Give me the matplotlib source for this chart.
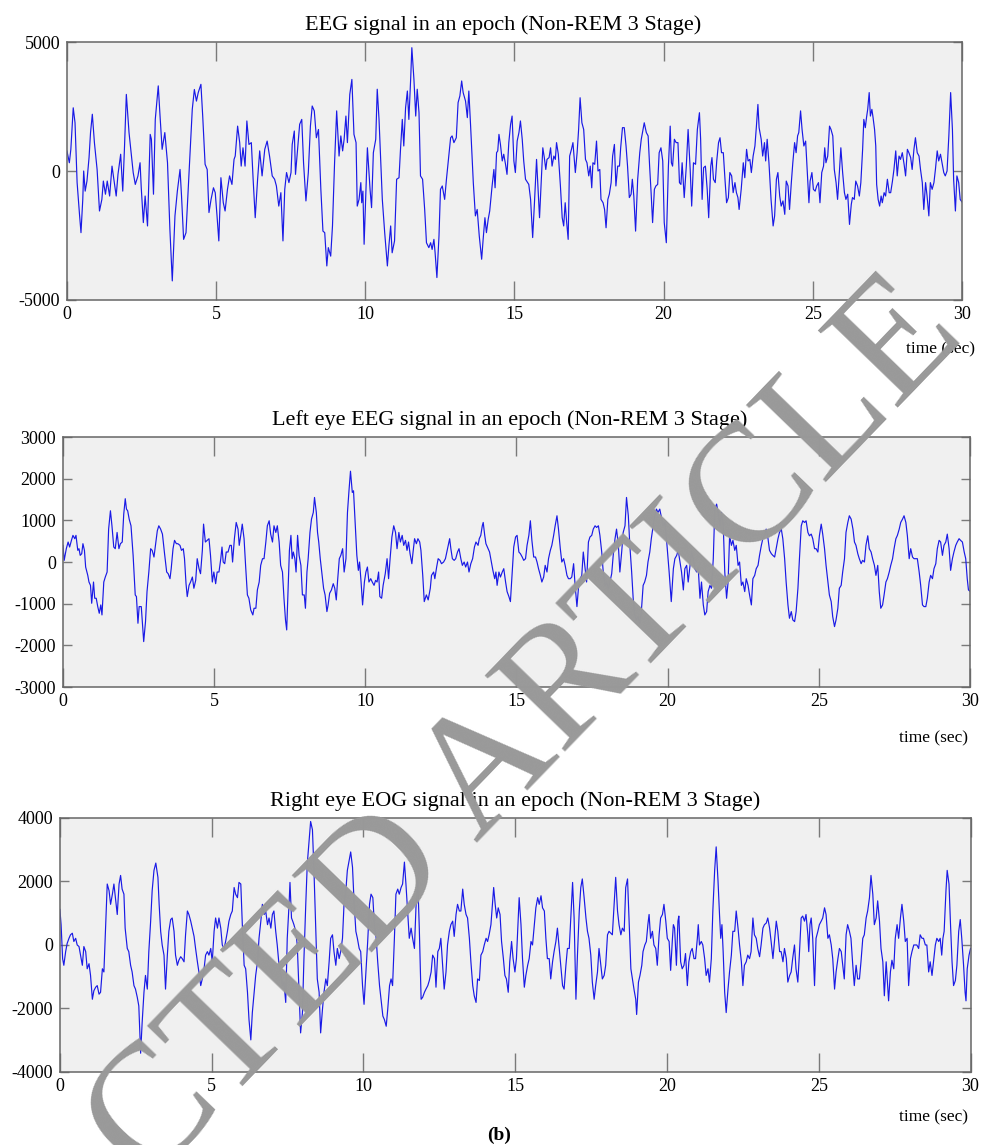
import numpy as np
import matplotlib.pyplot as plt

plt.rcParams['font.family'] = ['Liberation Serif', 'DejaVu Serif']
plt.rcParams['axes.unicode_minus'] = False

# values: time (sec) and amplitude

# EEG signal
eeg_t = [0.00, 0.08, 0.13, 0.21, 0.27, 0.34, 0.42, 0.47, 0.53, 0.56, 0.61, 0.67,
         0.74, 0.79, 0.85, 0.92, 1.01, 1.09, 1.17, 1.22, 1.29, 1.35, 1.43, 1.51,
         1.57, 1.65, 1.71, 1.80, 1.87, 1.93, 1.99, 2.08, 2.16, 2.22, 2.29, 2.38,
         2.45, 2.49, 2.56, 2.62, 2.70, 2.79, 2.83, 2.90, 2.96, 3.06, 3.12, 3.19,
         3.28, 3.37, 3.45, 3.53, 3.62, 3.70, 3.79, 3.84, 3.91, 3.99, 4.07, 4.13,
         4.20, 4.27, 4.34, 4.40, 4.49, 4.55, 4.63, 4.70, 4.76, 4.83, 4.91, 4.97,
         5.03, 5.09, 5.16, 5.24, 5.30, 5.38, 5.45, 5.53, 5.60, 5.64, 5.72, 5.79,
         5.84, 5.90, 5.97, 6.03, 6.10, 6.18, 6.24, 6.31, 6.39, 6.46, 6.54, 6.63,
         6.71, 6.79, 6.88, 6.96, 7.02, 7.10, 7.17, 7.24, 7.30, 7.36, 7.44, 7.51,
         7.55, 7.62, 7.66, 7.73, 7.80, 7.87, 7.93, 8.01, 8.09, 8.16, 8.22, 8.29,
         8.36, 8.43, 8.51, 8.58, 8.64, 8.71, 8.76, 8.84, 8.90, 8.97, 9.04, 9.12,
         9.18, 9.24, 9.29, 9.35, 9.40, 9.48, 9.55, 9.62, 9.69, 9.73, 9.79, 9.85,
         9.88, 9.92, 9.96,
         10.07, 10.16, 10.21, 10.27, 10.35, 10.40, 10.46, 10.51, 10.57, 10.65, 10.74, 10.79,
         10.85, 10.90, 10.98, 11.05, 11.13, 11.18, 11.24, 11.29, 11.35, 11.41, 11.46, 11.52,
         11.56, 11.63, 11.69, 11.74, 11.80, 11.85, 11.92, 11.99, 12.05, 12.13, 12.19, 12.24,
         12.30, 12.34, 12.40, 12.47, 12.52, 12.58, 12.66, 12.72, 12.80, 12.86, 12.91, 12.97,
         13.05, 13.11, 13.17, 13.23, 13.28, 13.36, 13.42, 13.47, 13.53, 13.62, 13.69, 13.75,
         13.82, 13.90, 13.95, 14.01, 14.06, 14.12, 14.17, 14.25, 14.31, 14.35, 14.40, 14.44,
         14.48, 14.53, 14.59, 14.64, 14.70, 14.75, 14.81, 14.87, 14.92, 14.98, 15.03, 15.09,
         15.15, 15.20, 15.26, 15.31, 15.37, 15.48, 15.54, 15.61, 15.67, 15.74, 15.79, 15.84,
         15.89, 15.95, 16.00, 16.05, 16.09, 16.16, 16.21, 16.26, 16.32, 16.37, 16.41, 16.47,
         16.54, 16.60, 16.65, 16.70, 16.75, 16.80, 16.85, 16.91, 16.96, 17.04, 17.10, 17.15,
         17.20, 17.26, 17.32, 17.38, 17.43, 17.49, 17.54, 17.59, 17.63, 17.69, 17.75, 17.80,
         17.86, 17.90, 17.97, 18.02, 18.07, 18.13, 18.18, 18.24, 18.29, 18.35, 18.40, 18.46,
         18.52, 18.56, 18.62, 18.68, 18.74, 18.79, 18.85, 18.91, 18.95, 19.00, 19.06, 19.13,
         19.20, 19.25, 19.31, 19.35, 19.42, 19.48, 19.53, 19.58, 19.63, 19.69, 19.74, 19.80,
         19.85, 19.91, 19.97, 20.02, 20.09, 20.16, 20.22,
         20.26, 20.30, 20.36, 20.42, 20.48, 20.53, 20.58, 20.62, 20.69, 20.76, 20.82, 20.89,
         20.94, 21.00, 21.07, 21.13, 21.20, 21.24, 21.29, 21.34, 21.40, 21.46, 21.51, 21.58,
         21.62, 21.67, 21.73, 21.78, 21.84, 21.89, 21.94, 22.00, 22.06, 22.11, 22.17, 22.22,
         22.28, 22.33, 22.39, 22.44, 22.49, 22.53, 22.60, 22.67, 22.72, 22.78, 22.83, 22.89,
         22.94, 23.00, 23.06, 23.11, 23.16, 23.20, 23.27, 23.32, 23.38, 23.42, 23.47, 23.53,
         23.60, 23.67, 23.72, 23.78, 23.83, 23.89, 23.94, 24.00, 24.06, 24.11, 24.17, 24.22,
         24.28, 24.33, 24.39, 24.44, 24.49, 24.53, 24.59, 24.64, 24.70, 24.76, 24.81, 24.87,
         24.91, 24.97, 25.02, 25.08, 25.13, 25.19, 25.24, 25.30, 25.36, 25.40, 25.44, 25.50,
         25.56, 25.61, 25.67, 25.72, 25.78, 25.83, 25.89, 25.94, 26.00, 26.06, 26.11, 26.17,
         26.23, 26.29, 26.33, 26.39, 26.44, 26.50, 26.56, 26.61, 26.67, 26.71, 26.76, 26.80,
         26.84, 26.89, 26.93, 26.98, 27.02, 27.07, 27.11, 27.14, 27.19, 27.24, 27.29, 27.33,
         27.39, 27.44, 27.50, 27.56, 27.61, 27.67, 27.72, 27.78, 27.83, 27.89, 27.94, 28.00,
         28.06, 28.11, 28.17, 28.22, 28.28, 28.33, 28.39, 28.44, 28.50, 28.56, 28.61, 28.67,
         28.72, 28.78, 28.83, 28.89, 28.94, 29.00, 29.06, 29.11, 29.17, 29.22, 29.28, 29.33,
         29.39, 29.44, 29.50, 29.56, 29.62, 29.68, 29.72, 29.78, 29.83, 29.89, 29.94, 30.00]
eeg_v = [775, 320, 840, 2450, 1870, -450, -1680, -2390, -1100, 0, -780, -390,
         520, 1490, 2200, 1100, 60, -1550, -1100, -390, -900, -390, -970, 190,
         -320, -970, -130, 650, -780, 970, 2970, 1490, 580, -60, -520, -190,
         320, -650, -2000, -970, -2130, 1420, 1230, -900, 2000, 3300, 2130, 840,
         1490, 320, -2260, -4260, -1740, -780, 60, -970, -2650, -2390, -580, 840,
         2390, 3160, 2710, 3040, 3360, 2130, 260, 60, -1610, -1100, -650, -840,
         -1740, -2710, -260, -1230, -1550, -710, -190, -520, 450, 580, 1740, 1100,
         190, 900, 190, 1940, 1030, 1100, -320, -1810, -320, 780, -190, 840,
         1160, 580, -190, -320, -580, -1360, -840, -2710, -710, -60, -450, -60,
         1030, 1550, -130, 840, 1810, 2000, 320, -1160, -60, 1740, 2520, 2330,
         1290, 1610, -710, -2330, -2390, -3680, -2970, -3300, -2130, 320, 2330, 580,
         1360, 780, 1230, 2130, 1100, 2970, 3550, 1420, 1100, -1360, -1100, -450,
         -1230, -780, -2840,
         900, -720, -1420, 710, 1230, 3170, 2000, 580, -1100, -2390, -3680, -2910,
         -2130, -3170, -2710, -320, -260, 840, 2000, 970, 2450, 3100, 2000, 3550,
         4780, 3550, 2130, 3170, 2260, -190, -320, -1490, -2780, -2970, -2780, -3040,
         -2650, -3170, -4130, -2520, -710, -580, -1100, -320, 580, 1290, 1360, 1100,
         1290, 2650, 2910, 3490, 3040, 2710, 2070, 3100, 1740, -450, -1740, -1490,
         -2520, -3420, -2650, -1810, -2390, -1870, -1550, -580, 60, -650, 710, 780,
         1420, 1030, 390, 650, 260, -130, 1100, 1810, 2130, 390, -60, 1160,
         1490, 1940, 1230, 390, -320, -520, -1100, -2580, -1230, 450, -710, -1810,
         -580, 900, 520, 60, 450, 520, 900, 190, 580, 450, 1100, 650,
         -580, -1810, -2130, -1230, -2000, -2650, 580, 840, 1100, -60, 710, 1610,
         2840, 1870, 1610, 450, 320, -190, 190, -650, 320, 260, 1160, 0,
         60, -1100, -1230, -1490, -2200, -1100, -900, -450, 580, 1030, -580, 190,
         190, 900, 1680, 1680, 970, 190, -1030, -900, -320, -970, -2330, -320,
         710, 1230, 1610, 1870, 1490, 1360, 190, -840, -2000, -710, -580, -520,
         710, 900, 390, -2000, -2780, 190, 1740,
         320, 190, 1230, 1100, 1100, -450, -520, 320, -1030, 190, 1610, 60,
         -1360, 320, 260, 1610, 2260, 1230, -1100, 130, 190, -710, -1810, 190,
         520, -320, -450, 390, 1100, 1290, 710, 710, -390, -1230, -1030, -60,
         -190, -840, -450, -840, -1030, -1490, -710, 320, -260, 840, 390, 450,
         -60, 580, 970, 1740, 2580, 1680, 1230, 580, 1100, 390, 1230, 320,
         -1100, -2130, -1740, -320, -60, -970, -1360, -1160, -1680, -390, -580, -1490,
         -450, 320, 1100, 710, 1360, 1490, 2330, 1610, 970, 1160, 60, -1230,
         -390, -60, -710, -780, -580, -450, -1230, -60, 190, 900, 320, 580,
         1740, 1610, 1360, 60, -450, -1100, -60, 900, -60, -840, -1100, -900,
         -2070, -1290, -1030, -1100, -390, -580, -970, -450, 840, 2000, 1680, 2070,
         2390, 3040, 2130, 2390, 2070, 1610, 970, -520, -1100, -1360, -970, -1230,
         -840, -970, -320, -840, -840, -390, 60, 780, -190, 580, 450, 710,
         260, -190, 840, 710, 520, 60, 840, 1290, 710, 580, 60, -450,
         -1490, -450, -970, -1740, -450, -710, -450, 60, 780, 390, 650, 320,
         -60, -190, 0, 1360, 3040, 1610, -320, -1550, -190, -450, -1100, -1200]

# left eye signal
left_t = [0.00, 0.04, 0.11, 0.17, 0.22, 0.28, 0.33, 0.39, 0.43, 0.49, 0.53, 0.57,
          0.62, 0.66, 0.71, 0.75, 0.82, 0.86, 0.91, 0.95, 1.01, 1.05, 1.10, 1.15,
          1.20, 1.25, 1.29, 1.35, 1.40, 1.46, 1.51, 1.57, 1.62, 1.68, 1.73, 1.79,
          1.85, 1.90, 1.96, 2.01, 2.06, 2.10, 2.14, 2.19, 2.25, 2.32, 2.39, 2.43,
          2.48, 2.52, 2.59, 2.63, 2.67, 2.73, 2.78, 2.84, 2.90, 2.95, 3.01, 3.06,
          3.12, 3.17, 3.23, 3.29, 3.36, 3.43, 3.48, 3.54, 3.58, 3.64, 3.69, 3.75,
          3.80, 3.87, 3.92, 3.98, 4.02, 4.07, 4.11, 4.17, 4.22, 4.28, 4.33, 4.39,
          4.44, 4.50, 4.55, 4.61, 4.65, 4.71, 4.77, 4.83, 4.88, 4.94, 4.99, 5.05,
          5.10, 5.16, 5.22, 5.26, 5.30, 5.35, 5.40, 5.46, 5.52, 5.57, 5.61, 5.67,
          5.73, 5.79, 5.83, 5.88, 5.93, 5.99, 6.04, 6.10, 6.15, 6.21, 6.28, 6.32,
          6.38, 6.43, 6.49, 6.54, 6.60, 6.65, 6.71, 6.76, 6.82, 6.87, 6.93, 6.98,
          7.04, 7.09, 7.15, 7.20, 7.26, 7.31, 7.36, 7.40, 7.45, 7.49, 7.54, 7.58,
          7.62, 7.67, 7.71, 7.76, 7.81, 7.87, 7.92, 7.98, 8.02, 8.07, 8.11, 8.17,
          8.22, 8.28, 8.32, 8.38, 8.42, 8.46, 8.51, 8.56, 8.62, 8.67, 8.73, 8.77,
          8.82, 8.88, 8.94, 8.99, 9.04, 9.08, 9.14, 9.19, 9.25, 9.30, 9.36, 9.41,
          9.46, 9.51, 9.57, 9.61, 9.67, 9.72, 9.77, 9.81, 9.86, 9.91, 9.97, 10.02,
          10.07, 10.12, 10.18, 10.23, 10.29, 10.34, 10.39, 10.44, 10.48, 10.54, 10.59, 10.66,
          10.72, 10.77, 10.82, 10.88, 10.94, 11.00, 11.05, 11.11, 11.16, 11.22, 11.27, 11.33,
          11.38, 11.43, 11.48, 11.54, 11.58, 11.63, 11.69, 11.74, 11.80, 11.84, 11.90, 11.95,
          12.02, 12.08, 12.15, 12.19, 12.26, 12.30, 12.36, 12.41, 12.47, 12.52, 12.59, 12.65,
          12.72, 12.79, 12.83, 12.88, 12.94, 12.99, 13.05, 13.10, 13.16, 13.21, 13.27, 13.32,
          13.38, 13.43, 13.49, 13.55, 13.61, 13.66, 13.73, 13.77, 13.82, 13.87, 13.90, 13.95,
          13.99, 14.06, 14.11, 14.17, 14.22, 14.28, 14.32, 14.36, 14.42, 14.47, 14.53, 14.58,
          14.64, 14.69, 14.75, 14.80, 14.86, 14.91, 14.97, 15.02, 15.08, 15.13, 15.19, 15.24,
          15.30, 15.35, 15.41, 15.46, 15.51, 15.57, 15.63, 15.68, 15.73, 15.79, 15.84, 15.90,
          15.95, 16.01, 16.06, 16.12, 16.17, 16.23, 16.28, 16.34, 16.39, 16.45, 16.50, 16.56,
          16.61, 16.67, 16.72, 16.78, 16.83, 16.89, 16.94, 17.00, 17.05, 17.11, 17.16, 17.21,
          17.27, 17.32, 17.38, 17.43, 17.49, 17.54, 17.60, 17.65, 17.71, 17.76, 17.82, 17.87,
          17.93, 17.98, 18.04, 18.09, 18.15, 18.20, 18.26, 18.31, 18.37, 18.42, 18.48, 18.53,
          18.59, 18.64, 18.70, 18.75, 18.81, 18.86, 18.91, 18.97, 19.02, 19.08, 19.13, 19.19,
          19.24, 19.30, 19.35, 19.41, 19.46, 19.52, 19.57, 19.63, 19.68, 19.74, 19.85,
          19.91, 19.97, 20.05, 20.12, 20.19, 20.24, 20.30, 20.35, 20.41, 20.46, 20.52, 20.57,
          20.63, 20.68, 20.74, 20.79, 20.85, 20.90, 20.96, 21.01, 21.07, 21.12, 21.18, 21.23,
          21.29, 21.34, 21.40, 21.45, 21.51, 21.56, 21.62, 21.67, 21.73, 21.78, 21.84, 21.89,
          21.95, 22.00, 22.05, 22.11, 22.16, 22.22, 22.27, 22.33, 22.38, 22.44, 22.49, 22.55,
          22.60, 22.66, 22.71, 22.77, 22.82, 22.88, 22.93, 22.99, 23.04, 23.10, 23.15, 23.21,
          23.26, 23.32, 23.37, 23.43, 23.48, 23.54, 23.59, 23.65, 23.70, 23.76, 23.81, 23.87,
          23.92, 23.98, 24.03, 24.09, 24.14, 24.20, 24.25, 24.31, 24.36, 24.42, 24.47, 24.53,
          24.58, 24.64, 24.69, 24.75, 24.80, 24.86, 24.91, 24.97, 25.02, 25.08, 25.13, 25.19,
          25.24, 25.30, 25.35, 25.41, 25.46, 25.52, 25.57, 25.63, 25.68, 25.74, 25.79, 25.85,
          25.90, 25.96, 26.01, 26.07, 26.13, 26.18, 26.23, 26.29, 26.34, 26.40, 26.45, 26.51,
          26.56, 26.62, 26.67, 26.73, 26.78, 26.84, 26.89, 26.95, 27.00, 27.05, 27.11, 27.16,
          27.22, 27.27, 27.33, 27.38, 27.44, 27.49, 27.55, 27.60, 27.66, 27.71, 27.77, 27.82,
          27.88, 27.93, 27.99, 28.04, 28.10, 28.15, 28.21, 28.26, 28.32, 28.37, 28.43, 28.48,
          28.54, 28.59, 28.65, 28.70, 28.76, 28.81, 28.87, 28.92, 28.98, 29.03, 29.09, 29.14,
          29.20, 29.25, 29.31, 29.36, 29.42, 29.47, 29.53, 29.58, 29.64, 29.69, 29.75, 29.81,
          29.86, 29.91, 29.95, 30.00]
left_v = [400, 40, 320, 480, 360, 520, 640, 560, 640, 280, 320, 160,
          200, 440, 280, -120, -320, -480, -560, -990, -480, -870, -870, -1070,
          -1230, -1030, -1270, -480, -360, -240, 790, 1230, 870, 360, 320, 710,
          320, 440, 480, 1150, 1520, 1270, 1230, 1030, 870, 160, -790, -830,
          -1470, -1070, -1070, -1510, -1910, -1430, -710, -240, 320, 280, 120, 400,
          750, 870, 790, 670, 200, -240, -280, -400, -160, 320, 520, 440,
          440, 400, 280, 320, 80, -520, -830, -560, -480, -360, -630, -440,
          80, -160, -280, 280, 910, 480, 520, 560, 160, -480, -240, -520,
          -240, -240, 80, 360, 0, -40, 240, 240, 400, 400, 0, 560,
          950, 790, 400, 640, 910, 560, -80, -790, -870, -1150, -1270, -1110,
          -1110, -670, -480, -80, 80, 80, 480, 870, 990, 670, 480, 870,
          710, 870, 480, -80, -240, -870, -1390, -1630, -560, 280, 640, 80,
          240, 80, -240, 640, 160, -80, -790, -790, -1110, -240, 80, 710,
          1030, 1190, 1550, 1190, 710, 480, 80, -240, -630, -790, -1190, -1030,
          -750, -670, -520, -630, -910, -480, 80, 160, 320, -240, 80, 1190,
          1710, 2180, 1670, 1710, 870, 160, -200, 0, -480, -1030, -480, -240,
          -120, -480, -400, -480, -560, -440, -480, -240, -830, -870, -560, -280,
          80, -400, 80, 600, 870, 710, 320, 710, 480, 640, 400, 520,
          280, 480, 200, -40, 240, 560, 440, 560, 480, 280, -320, -950,
          -790, -910, -630, -320, -240, -400, -120, 80, 40, -40, 0, 80,
          320, 560, 320, 80, 40, 80, 240, 320, 80, -80, 0, -120,
          0, -240, -40, 80, 360, 480, 400, 560, 640, 870, 950, 640,
          440, 320, 240, 0, -200, -400, -240, -560, -240, -360, -240, -160,
          -480, -710, -830, -950, -240, 360, 600, 640, 240, 200, 120, 40,
          80, 400, 640, 990, 520, 120, 120, 0, -160, -320, -480, -360,
          -80, -240, 80, 280, 400, 640, 870, 1110, 790, 320, 0, 80,
          -80, -320, -400, -400, -360, -40, -560, -1070, -630, -400, -320, 240,
          -160, -480, 480, 600, 640, 790, 870, 830, 870, 640, 240, -240,
          -560, -480, -630, -480, -280, 160, 560, 790, 400, -240, 240, 710,
          870, 1550, 1110, 400, -240, -870, -1270, -1390, -1310, -1470, -1190, -560,
          -480, -320, 0, 240, 560, 870, 1110, 1270, 1190, 1270, 870,
          950, 480, -240, -950, -160, 80, 160, 280, 0, -240, -670, -160,
          -80, -480, -80, 240, 80, -160, -240, -120, -870, -480, -1030, -1270,
          -1190, -710, -560, -630, 80, 1270, 1390, 1190, 870, 1190, 870, -240,
          -870, -480, 630, 400, 520, 280, 400, -80, 0, -560, -480, -710,
          -400, -560, -790, -1030, -400, -320, -160, -80, 160, 400, 560, 640,
          790, 560, 280, 200, 160, 120, 320, 560, 710, 790, 560, 80,
          -480, -1030, -1350, -1190, -1390, -1430, -1190, -630, 80, 870, 990, 950,
          990, 710, 630, 670, 560, 320, 320, 240, 630, 910, 670, 320,
          -80, -480, -790, -950, -1310, -1550, -1390, -1110, -630, -560, -240, 80,
          710, 950, 1110, 1030, 790, 480, 400, 200, 80, -40, 40, 0,
          400, 630, 320, 240, 80, -80, -320, -80, -710, -1110, -1030, -790,
          -480, -400, -240, -80, 80, 320, 560, 640, 790, 950, 1030, 1110,
          950, 630, 80, 320, 120, 80, 80, 80, -240, -560, -1030, -1070,
          -1070, -870, -480, -320, -400, -160, -40, 320, 520, 480, 160, 400,
          480, 670, 320, -200, 80, 240, 400, 480, 560, 520, 480, 240,
          80, -400, -670, -700]

# right eye signal
right_t = [0.00, 0.04, 0.09, 0.13, 0.19, 0.24, 0.30, 0.35, 0.41, 0.46, 0.52, 0.57,
           0.63, 0.68, 0.74, 0.79, 0.85, 0.90, 0.96, 1.01, 1.07, 1.12, 1.18, 1.23,
           1.29, 1.34, 1.40, 1.45, 1.51, 1.56, 1.62, 1.67, 1.73, 1.78, 1.84, 1.89,
           1.95, 2.00, 2.05, 2.11, 2.15, 2.22, 2.27, 2.33, 2.38, 2.44, 2.49, 2.55,
           2.60, 2.66, 2.71, 2.77, 2.82, 2.88, 2.93, 2.99, 3.04, 3.10, 3.16, 3.23,
           3.27, 3.32, 3.37, 3.43, 3.48, 3.54, 3.59, 3.65, 3.70, 3.76, 3.81, 3.87,
           3.92, 3.98, 4.03, 4.09, 4.14, 4.20, 4.25, 4.31, 4.36, 4.42, 4.47, 4.53,
           4.58, 4.64, 4.69, 4.75, 4.80, 4.86, 4.91, 4.97, 5.02, 5.08, 5.13, 5.19,
           5.24, 5.30, 5.35, 5.41, 5.46, 5.52, 5.57, 5.63, 5.68, 5.74, 5.79, 5.85,
           5.90, 5.96, 6.01, 6.07, 6.12, 6.18, 6.23, 6.29, 6.34, 6.40, 6.45, 6.51,
           6.56, 6.62, 6.67, 6.73, 6.78, 6.84, 6.89, 6.95, 7.00, 7.05, 7.11, 7.16,
           7.22, 7.27, 7.33, 7.38, 7.44, 7.49, 7.55, 7.58, 7.63, 7.67, 7.71, 7.77,
           7.82, 7.88, 7.93, 7.99, 8.04, 8.10, 8.15, 8.21, 8.26, 8.32, 8.37, 8.43,
           8.48, 8.54, 8.59, 8.65, 8.70, 8.76, 8.81, 8.87, 8.92, 8.98, 9.03, 9.09,
           9.14, 9.20, 9.25, 9.31, 9.36, 9.42, 9.47, 9.53, 9.58, 9.64, 9.69, 9.75,
           9.80, 9.86, 9.91, 9.97, 10.02, 10.08,
           10.14, 10.20, 10.25, 10.31, 10.36, 10.42, 10.47, 10.53, 10.58, 10.64, 10.69, 10.75,
           10.80, 10.86, 10.91, 10.96, 11.02, 11.07, 11.13, 11.18, 11.24, 11.29, 11.35, 11.40,
           11.46, 11.51, 11.57, 11.62, 11.68, 11.73, 11.79, 11.84, 11.90, 11.95, 12.01, 12.06,
           12.12, 12.17, 12.23, 12.28, 12.34, 12.39, 12.45, 12.50, 12.55, 12.61, 12.66, 12.72,
           12.77, 12.83, 12.88, 12.94, 12.99, 13.05, 13.10, 13.16, 13.21, 13.27, 13.32, 13.38,
           13.43, 13.49, 13.54, 13.60, 13.65, 13.71, 13.76, 13.82, 13.87, 13.93, 13.98, 14.04,
           14.09, 14.14, 14.20, 14.25, 14.29, 14.34, 14.39, 14.44, 14.50, 14.55, 14.61, 14.66,
           14.71, 14.77, 14.82, 14.88, 14.93, 14.99, 15.04, 15.10, 15.13, 15.19, 15.24, 15.30,
           15.35, 15.41, 15.46, 15.52, 15.57, 15.63, 15.68, 15.74, 15.79, 15.85, 15.90, 15.96,
           16.01, 16.06, 16.12, 16.17, 16.23, 16.28, 16.34, 16.39, 16.45, 16.50, 16.56, 16.61,
           16.67, 16.72, 16.78, 16.83, 16.89, 16.94, 17.00, 17.05, 17.11, 17.16, 17.21, 17.27,
           17.33, 17.38, 17.43, 17.49, 17.54, 17.60, 17.65, 17.71, 17.76, 17.82, 17.87, 17.93,
           17.98, 18.04, 18.09, 18.15, 18.20, 18.26, 18.31, 18.37, 18.42, 18.48, 18.53, 18.59,
           18.64, 18.70, 18.75, 18.81, 18.86, 18.92, 18.97, 19.00, 19.06, 19.11, 19.17, 19.21,
           19.27, 19.32, 19.37, 19.41, 19.46, 19.52, 19.57, 19.63, 19.68, 19.74, 19.79, 19.85, 19.90,
           19.96, 20.01, 20.07, 20.12, 20.18, 20.21, 20.25, 20.31, 20.36, 20.39, 20.45, 20.50,
           20.56, 20.61, 20.67, 20.72, 20.78, 20.83, 20.89, 20.94, 21.00, 21.03, 21.07, 21.13,
           21.18, 21.24, 21.29, 21.35, 21.40, 21.46, 21.51, 21.57, 21.62, 21.68, 21.73, 21.77,
           21.81, 21.85, 21.90, 21.95, 22.01, 22.06, 22.12, 22.17, 22.23, 22.28, 22.34, 22.39,
           22.45, 22.50, 22.55, 22.61, 22.66, 22.72, 22.77, 22.83, 22.88, 22.94, 22.99, 23.05,
           23.10, 23.16, 23.21, 23.27, 23.32, 23.38, 23.43, 23.49, 23.54, 23.60, 23.65, 23.71,
           23.76, 23.82, 23.87, 23.93, 23.98, 24.04, 24.09, 24.14, 24.20, 24.25, 24.31, 24.36,
           24.42, 24.47, 24.53, 24.58, 24.64, 24.67, 24.71, 24.75, 24.80, 24.86, 24.91, 24.97,
           25.02, 25.08, 25.13, 25.19, 25.24, 25.30, 25.35, 25.41, 25.46, 25.52, 25.57, 25.63,
           25.68, 25.74, 25.79, 25.84, 25.90, 25.95, 26.01, 26.06, 26.12, 26.17, 26.23, 26.28,
           26.34, 26.39, 26.45, 26.50, 26.56, 26.61, 26.67, 26.72, 26.78, 26.83, 26.89, 26.94,
           27.00, 27.05, 27.11, 27.16, 27.22, 27.27, 27.30, 27.36, 27.41, 27.47, 27.52, 27.58,
           27.63, 27.69, 27.74, 27.80, 27.85, 27.91, 27.96, 28.02, 28.07, 28.13, 28.18, 28.23,
           28.29, 28.34, 28.40, 28.45, 28.51, 28.56, 28.62, 28.67, 28.73, 28.78, 28.84, 28.89,
           28.95, 29.00, 29.05, 29.09, 29.13, 29.19, 29.23, 29.29, 29.34, 29.39, 29.44, 29.50,
           29.55, 29.61, 29.66, 29.71, 29.77, 29.82, 29.85, 29.89, 29.95, 30.00]
right_v = [1120, 640, -430, -640, -210, 50, 210, 320, 370, 110, 210, 0,
           -50, -320, -640, -50, -210, -750, -590, -960, -1710, -1440, -1330, -1280,
           -1550, -1490, -750, -850, 640, 1920, 1710, 1280, 1600, 1920, 1390, 960,
           1920, 2190, 1760, 1600, 530, -110, -210, -640, -850, -1280, -1390, -1650,
           -1920, -3410, -2450, -1490, -960, -1390, -210, 750, 1710, 2350, 2580, 2130,
           1280, 430, 0, -320, -1390, -320, 430, 800, 850, 430, -320, -640,
           -480, -370, -430, -530, 320, 1070, 960, 750, 530, 270, -110, -530,
           -850, -1280, -1070, -750, -320, -210, -320, -110, -530, 430, 850, 530,
           850, 530, 0, -110, 110, 430, 750, 960, 1070, 1810, 1600, 1490,
           1970, 1920, 640, -640, -750, -1490, -2350, -2990, -2130, -1490, -960, -530,
           210, 750, 1280, 960, 1070, 640, 850, 530, 960, 1070, 430, 0,
           -640, -850, -1280, -1170, -1810, 210, 1280, 1970, 850, 750, 640, 430,
           0, -1490, -2770, -2130, -430, 1280, 2560, 3310, 3890, 3630, 2350, 430,
           -1070, -1490, -2770, -2030, -1490, -1070, -1280, -530, 210, 320, -210, -640,
           -110, -430, -210, 210, 1280, 1710, 2350, 2670, 2930, 2450, 1390, 430,
           210, -110, -210, -1280, -1870, -850,
           110, 1280, 1600, 1490, 640, 210, -530, -1280, -1710, -2240, -2350, -2560,
           -2030, -1280, -1070, -1280, 210, 1600, 1760, 1600, 1810, 1920, 2610, 1920,
           960, 210, 530, 210, -110, 1170, 2030, 530, -1710, -1650, -1490, -1390,
           -1280, -1120, -850, -320, -430, -1330, -210, -110, 210, -640, -1390, -850,
           0, 430, 640, 750, 270, 960, 1280, 1070, 1070, 1760, 1280, 960,
           850, 210, -530, -1280, -1600, -1810, -1070, -1120, -320, -210, 0, 210,
           110, 320, 640, 1280, 1810, 1280, 850, 1170, 960, 110, -430, -960,
           -1070, -1490, -530, 110, -430, -850, -430, 850, 1490, 640, -430, -1330,
           -960, -640, -430, 110, 0, 640, 1170, 1490, 1280, 1550, 1170, 1070,
           210, -430, -430, -1070, -530, -210, 110, 530, -110, -640, -1280, -1390,
           -640, -110, -110, 850, 1970, 850, -1710, -320, 1070, 1810, 2080, 1490,
           850, 430, 210, -320, -1170, -1710, -1280, -850, -110, -640, -1070, -960,
           -640, 320, 430, 370, 320, 1280, 2130, 1070, 640, 320, 530, 430,
           1810, 2080, 750, -750, -1070, -1440, -1710, -2190, -1170, -960, -640, -210,
           0, 110, 640, 960, 210, 430, 0, -110, -640, 320, 850, 960, 1280,
           750, 210, 110, -800, 210, 640, 530, -640, 750, 910, -530, -750,
           -640, -270, -1280, -530, -210, -110, -430, -430, 210, 640, 0, 110,
           0, -430, -960, -750, -1170, -430, 1070, 2350, 3090, 2030, 960, 210,
           640, -210, -1490, -2130, -1390, -850, -320, 430, 430, 1070, 530, 0,
           -530, -1280, -640, -530, -320, -430, -210, 850, 320, 210, -110, -370,
           0, 530, 640, 690, 850, 530, 110, -430, 110, 750, 430, -210,
           -210, -530, -110, -430, -1170, -960, -850, -430, 0, -750, -1170, -320,
           850, 910, 750, 960, 320, -210, 640, 850, 210, -1280, 210, 430,
           640, 750, 850, 1170, 960, 210, 320, 0, -430, -1390, -850, -430,
           -110, -210, -640, -1070, 320, 640, 430, 210, -640, -1280, -640, -1070,
           -1070, -530, 210, 320, 850, 1070, 1490, 2190, 1600, 640, 850, 1390,
           750, -110, -530, -1600, -530, -1280, -1760, -850, -480, -750, 210, 640,
           210, 850, 1280, 750, 110, 210, -1280, -430, -210, 0, 0, 0,
           -110, 320, 210, 210, 0, 0, -850, -530, -960, -530, 0, 210,
           110, 210, -320, 210, 430, 1710, 2350, 1920, 640, -530, -1280, -1120,
           -640, 430, 800, 210, -640, -1490, -1760, -750, -320, -110]

titles = ['EEG signal in an epoch (Non-REM 3 Stage)',
          'Left eye EEG signal in an epoch (Non-REM 3 Stage)',
          'Right eye EOG signal in an epoch (Non-REM 3 Stage)']
y_limits = [5000, 3000, 4000]
y_steps = [5000, 1000, 2000]
x_ticks = [0, 5, 10, 15, 20, 25, 30]

signals = [(eeg_t, eeg_v), (left_t, left_v), (right_t, right_v)]

fig = plt.figure(figsize=(9.98, 11.45), dpi=100)
boxes = [[0.0671, 0.738, 0.8968, 0.2253],
         [0.0631, 0.400, 0.9088, 0.2183],
         [0.0600, 0.0638, 0.9125, 0.2218]]
title_x = [0.487, 0.492, 0.5]
xlabel_pos = [(1.014, -0.19), (0.998, -0.204), (0.997, -0.177)]

for i in range(3):
    ax = fig.add_axes(boxes[i])
    t, v = signals[i]
    ax.set_facecolor('#f0f0f0')
    ax.plot(t, v, color='#1a1ae6', lw=0.85)
    lim = y_limits[i]
    ax.set_xlim(0, 30)
    ax.set_ylim(-lim, lim)
    ax.set_xticks(x_ticks)
    ax.set_yticks(np.arange(-lim, lim + 1, y_steps[i]))
    ax.tick_params(direction='in', top=True, right=True, colors='#7a7a7a',
                   labelcolor='black', labelsize=13, width=1)
    ax.tick_params(axis='x', length=14, pad=4)
    ax.tick_params(axis='y', length=6.5, pad=5)
    for s in ax.spines.values():
        s.set_color('#666666')
        s.set_linewidth(1.1)
    ax.set_title(titles[i], fontsize=16, pad=8.5, x=title_x[i])
    ax.text(xlabel_pos[i][0], xlabel_pos[i][1], 'time (sec)', transform=ax.transAxes,
            ha='right', va='center', fontsize=12.5)

fig.text(0.5, 0.0087, '(b)', ha='center', va='center', fontsize=14, fontweight='bold')

# retraction watermark across the whole figure
fig.text(0.335, 0.186, 'RETRACTED ARTICLE', rotation=46, rotation_mode='anchor',
         ha='center', va='center', fontsize=122, color='#999999', zorder=10)

fig.savefig('out.png', dpi=100)
